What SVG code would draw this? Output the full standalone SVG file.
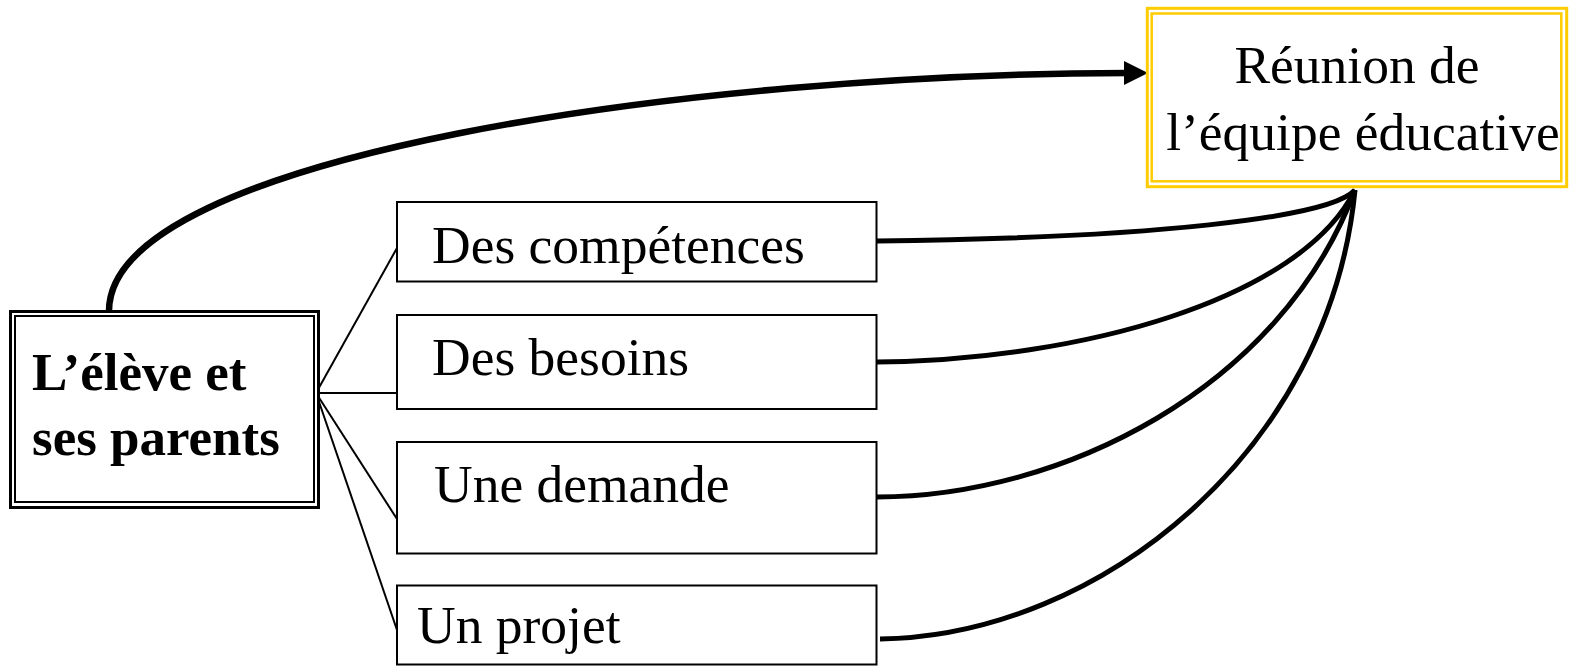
<svg xmlns="http://www.w3.org/2000/svg" width="1575" height="666" viewBox="0 0 1575 666">
<defs>
<style>
.t{font-family:"Liberation Serif","Times New Roman",serif;font-size:53.5px;fill:#000}
.b{font-family:"Liberation Serif","Times New Roman",serif;font-size:53px;font-weight:bold;fill:#000}
.box{fill:#fff;stroke:#000;stroke-width:2}
.fan{fill:none;stroke:#000;stroke-width:2}
.cur{fill:none;stroke:#000;stroke-width:5}
</style>
<marker id="ah" markerUnits="userSpaceOnUse" markerWidth="30" markerHeight="30" refX="4" refY="12" orient="auto" overflow="visible">
<path d="M0,0 L24,12 L0,24 Z" fill="#000"/>
</marker>
</defs>
<rect width="1575" height="666" fill="#fff"/>
<g id="connectors">
<path class="fan" d="M316,393 L397,248"/>
<path class="fan" d="M316,393 L397,393"/>
<path class="fan" d="M316,393 L397,519"/>
<path class="fan" d="M316,393 L397,630"/>
<path d="M109,311 C109,155 700,73 1128,73" fill="none" stroke="#000" stroke-width="6.5" marker-end="url(#ah)"/>
<path class="cur" d="M877,241 C1150,238 1330,218 1355,190"/>
<path class="cur" d="M877,362 C1080,360 1300,300 1355,190"/>
<path class="cur" d="M877,497 C1060,497 1280,390 1355,190"/>
<path class="cur" stroke-width="6" d="M880,639 C1100,636 1330,450 1355,190"/>
</g>
<g id="node-eleve">
<rect x="10.5" y="311.5" width="308" height="196" fill="#fff" stroke="#000" stroke-width="3"/>
<rect x="15" y="316" width="299" height="186" fill="none" stroke="#000" stroke-width="2"/>
<text class="b" x="32" y="390">L’élève et</text>
<text class="b" x="32" y="455">ses parents</text>
</g>
<g id="node-competences">
<rect class="box" x="397" y="202" width="479.5" height="79.5"/>
<text class="t" x="432" y="263">Des compétences</text>
</g>
<g id="node-besoins">
<rect class="box" x="397" y="315" width="479.5" height="94"/>
<text class="t" x="432" y="375">Des besoins</text>
</g>
<g id="node-demande">
<rect class="box" x="397" y="442" width="479.5" height="111.5"/>
<text class="t" x="434" y="502">Une demande</text>
</g>
<g id="node-projet">
<rect class="box" x="397" y="585.5" width="479.5" height="79"/>
<text class="t" x="417" y="643">Un projet</text>
</g>
<g id="node-reunion">
<rect x="1147.3" y="8.3" width="419.4" height="178.4" fill="#fff" stroke="#FFCC00" stroke-width="3"/>
<rect x="1151.7" y="13.5" width="409.6" height="167.8" fill="none" stroke="#FFCC00" stroke-width="2.5"/>
<text class="t" x="1357" y="83" text-anchor="middle">Réunion de</text>
<text class="t" x="1363" y="150" text-anchor="middle">l’équipe éducative</text>
</g>
</svg>
